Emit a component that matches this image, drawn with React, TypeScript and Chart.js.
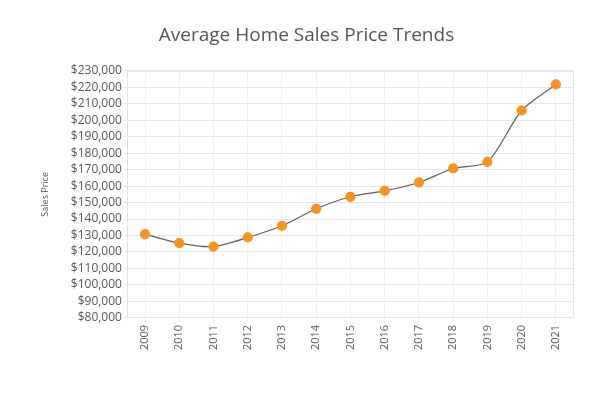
import React, { useEffect, useRef } from "react";
import { Chart, registerables } from "chart.js";

Chart.register(...registerables);

const years = ["2009", "2010", "2011", "2012", "2013", "2014", "2015", "2016", "2017", "2018", "2019", "2020", "2021"];
const avgPrice = [130800, 125400, 123300, 128800, 135900, 146200, 153500, 157100, 162200, 170700, 174700, 205900, 221700];
const yMin = 80000;
const yMax = 230000;
const yStep = 10000;

const FONT = "'Open Sans', sans-serif";

const borderPlugin = {
  id: "plotBorder",
  afterDraw(chart: any) {
    const { ctx, chartArea } = chart;
    ctx.save();
    ctx.strokeStyle = "#e2e2e2";
    ctx.lineWidth = 1;
    ctx.beginPath();
    ctx.moveTo(chartArea.left, chartArea.top + 0.5);
    ctx.lineTo(chartArea.right + 0.5, chartArea.top + 0.5);
    ctx.lineTo(chartArea.right + 0.5, chartArea.bottom);
    ctx.stroke();
    ctx.restore();
  },
};

export default function App() {
  const ref = useRef<HTMLCanvasElement | null>(null);
  useEffect(() => {
    if (!ref.current) return;
    const chart = new Chart(ref.current, {
      type: "line",
      data: {
        labels: years,
        datasets: [
          {
            label: "Average Price",
            data: avgPrice,
            borderColor: "#5f5f5f",
            borderWidth: 1.2,
            pointBackgroundColor: "#F7931E",
            pointBorderColor: "#F7931E",
            pointRadius: 4.5,
            pointHoverRadius: 4.5,
            tension: 0.25,
          },
        ],
      },
      options: {
        animation: false,
        responsive: false,
        layout: { padding: { left: 40, right: 40, top: 0, bottom: 44 } },
        plugins: {
          legend: { display: false },
          tooltip: { enabled: false },
          title: {
            display: true,
            text: "Average Home Sales Price Trends",
            color: "#555555",
            font: { family: FONT, size: 19, weight: "normal" },
            padding: { top: 24, bottom: 24 },
          },
        },
        scales: {
          x: {
            offset: true,
            grid: { color: "#f0f0f0", drawTicks: true, tickLength: 5 },
            border: { color: "#e2e2e2" },
            ticks: {
              color: "#555555",
              font: { family: FONT, size: 11 },
              minRotation: 90,
              maxRotation: 90,
              padding: 2,
              autoSkip: false,
            },
          },
          y: {
            min: yMin,
            max: yMax,
            grid: { color: "#e6e6e6", drawTicks: true, tickLength: 4 },
            border: { color: "#e2e2e2" },
            ticks: {
              stepSize: yStep,
              autoSkip: false,
              color: "#555555",
              font: { family: FONT, size: 12 },
              padding: 2,
              callback: (v: any) => "$" + Number(v).toLocaleString("en-US"),
            },
            title: {
              display: true,
              text: "Sales Price",
              color: "#555555",
              font: { family: FONT, size: 9 },
              padding: { top: 0, bottom: 18 },
            },
          },
        },
      },
      plugins: [borderPlugin],
    });
    return () => chart.destroy();
  }, []);
  return (
    <div style={{ position: "absolute", left: 0, top: 0, width: 613, height: 396, background: "#fff" }}>
      <canvas ref={ref} width={613} height={396} style={{ width: 613, height: 396 }} />
    </div>
  );
}
